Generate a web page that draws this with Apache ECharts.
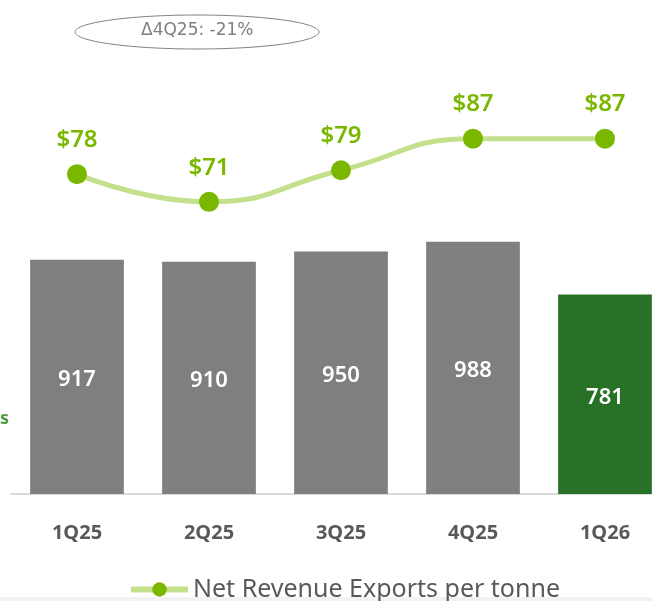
<!DOCTYPE html>
<html>
<head>
<meta charset="utf-8">
<script src="https://cdn.jsdelivr.net/npm/echarts@6/dist/echarts.min.js"></script>
<style>
  html, body { margin: 0; padding: 0; background: #fff; }
  #chart { width: 652px; height: 601px; }
</style>
</head>
<body>
<div id="chart"></div>
<script>
// quarters on the x axis
var quarters = ['1Q25', '2Q25', '3Q25', '4Q25', '1Q26'];
// bars: export volume
var volumes = [917, 910, 950, 988, 781];
// line: net revenue per tonne ($)
var pricePerTonne = [78, 71, 79, 87, 87];
var badgeText = 'Δ4Q25: -21%';

var chart = echarts.init(document.getElementById('chart'));

var barData = volumes.map(function (v, i) {
  return {
    value: v,
    itemStyle: { color: i === volumes.length - 1 ? '#287228' : '#7f7f7f' }
  };
});

var option = {
  animation: false,
  textStyle: { fontFamily: 'Noto Sans' },
  grid: { left: 11, top: 111, right: -19, bottom: 107, outerBoundsMode: 'none' },
  legend: {
    bottom: -6,
    left: 123,
    itemWidth: 57,
    itemHeight: 18,
    lineStyle: { width: 6 },
    textStyle: { fontSize: 25, color: '#595959', fontFamily: 'Noto Sans' },
    data: ['Net Revenue Exports per tonne']
  },
  xAxis: {
    type: 'category',
    data: quarters,
    axisTick: { show: false },
    axisLine: { lineStyle: { color: '#d9d9d9', width: 2 } },
    axisLabel: { color: '#595959', fontSize: 20, fontWeight: 'bold', margin: 29 }
  },
  yAxis: [
    { type: 'value', min: 0, max: 1500, show: false },
    { type: 'value', min: -3, max: 94, show: false }
  ],
  series: [
    {
      name: 'Volume',
      type: 'bar',
      yAxisIndex: 0,
      barWidth: '71%',
      data: barData,
      label: {
        show: true,
        position: 'inside',
        offset: [0, 3],
        color: '#fff',
        fontSize: 22,
        fontWeight: 600
      }
    },
    {
      name: 'Net Revenue Exports per tonne',
      type: 'line',
      yAxisIndex: 1,
      smooth: true,
      symbol: 'circle',
      symbolSize: 20,
      data: pricePerTonne,
      lineStyle: { color: '#c3e08c', width: 5 },
      itemStyle: { color: '#7ab800' },
      label: {
        show: true,
        position: 'top',
        distance: 12,
        color: '#7ab800',
        fontSize: 24,
        fontWeight: 600,
        formatter: function (p) { return '$' + p.value; }
      }
    }
  ],
  graphic: [
    {
      type: 'ellipse',
      shape: { cx: 197, cy: 32, rx: 122, ry: 17 },
      style: { fill: '#fff', stroke: '#808080', lineWidth: 1 }
    },
    {
      type: 'text',
      left: 141,
      top: 22,
      style: { text: badgeText, fill: '#7f7f7f', font: '17px "DejaVu Sans"' }
    },
    {
      type: 'text',
      left: 0,
      top: 410,
      style: { text: 's', fill: '#4f9a3a', font: 'bold 18px "Noto Sans"' }
    },
    {
      type: 'rect',
      shape: { x: 0, y: 597, width: 652, height: 4 },
      style: { fill: '#f2f2f2' }
    }
  ]
};

chart.setOption(option);
</script>
</body>
</html>
